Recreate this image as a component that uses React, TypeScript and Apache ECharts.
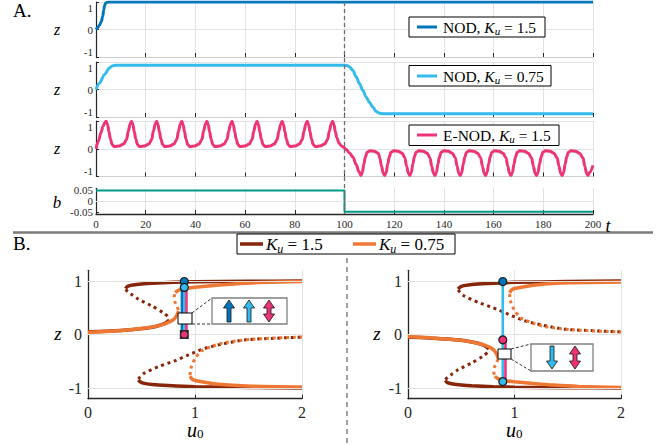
import React, { useEffect, useRef } from 'react';
import * as echarts from 'echarts';

const SER = 'Liberation Serif';

// ---------- Panel A data ----------
const zTickValues = [-1, 0, 1];
const bTickValues = [-0.05, 0, 0.05];
const bTickLabels = ['-0.05', '0', '0.05'];

const nod15: number[][] = [[0,0],[0.7,0.07],[1.4,0.16],[2.1,0.28],[2.7,0.47],[3.1,0.71],[3.5,0.88],[3.9,0.96],[4.5,0.99],[5.5,1],[200,1]];
const nod075: number[][] = [[0,0],[1.4,0.23],[3.4,0.54],[5.4,0.78],[6.3,0.85],[7.2,0.875],[8.5,0.88],[100,0.88],[101,0.87],[102,0.83],[103.4,0.69],[104.7,0.46],[106,0.22],[107.4,-0.03],[108.7,-0.27],[110,-0.46],[111.4,-0.64],[112.7,-0.8],[114,-0.86],[115.5,-0.88],[200,-0.88]];
const enod: number[][] = [
[0,0],[1,0.28],[2,0.58],[2.8,0.8],[3.5,0.94],[4.1,0.99],
[4.7,0.86],[5.2,0.62],[5.8,0.35],[6.5,0.15],[7.4,0.08],[9.3,0.1],[11.1,0.17],[12.3,0.33],[13.0,0.63],[13.7,0.88],[14.3,0.99],
[14.9,0.86],[15.4,0.62],[16.0,0.35],[16.7,0.15],[17.6,0.08],[19.5,0.1],[21.3,0.17],[22.4,0.33],[23.1,0.63],[23.8,0.88],[24.4,0.99],
[25.0,0.86],[25.5,0.62],[26.1,0.35],[26.8,0.15],[27.7,0.08],[29.6,0.1],[31.4,0.17],[32.5,0.33],[33.2,0.63],[33.9,0.88],[34.5,0.99],
[35.1,0.86],[35.6,0.62],[36.2,0.35],[36.9,0.15],[37.8,0.08],[39.7,0.1],[41.5,0.17],[42.6,0.33],[43.3,0.63],[44.0,0.88],[44.6,0.99],
[45.2,0.86],[45.7,0.62],[46.3,0.35],[47.0,0.15],[47.9,0.08],[49.8,0.1],[51.6,0.17],[52.7,0.33],[53.4,0.63],[54.1,0.88],[54.7,0.99],
[55.3,0.86],[55.8,0.62],[56.4,0.35],[57.1,0.15],[58.0,0.08],[59.9,0.1],[61.7,0.17],[62.8,0.33],[63.5,0.63],[64.2,0.88],[64.8,0.99],
[65.4,0.86],[65.9,0.62],[66.5,0.35],[67.2,0.15],[68.1,0.08],[70.0,0.1],[71.8,0.17],[72.9,0.33],[73.6,0.63],[74.3,0.88],[74.9,0.99],
[75.5,0.86],[76.0,0.62],[76.6,0.35],[77.3,0.15],[78.2,0.08],[80.1,0.1],[81.9,0.17],[83.0,0.33],[83.7,0.63],[84.4,0.88],[85.0,0.99],
[85.6,0.86],[86.1,0.62],[86.7,0.35],[87.4,0.15],[88.3,0.08],[90.2,0.1],[92.0,0.17],[93.2,0.33],[93.9,0.63],[94.6,0.88],[95.2,0.99],
[95.8,0.86],[96.3,0.62],[96.9,0.4],[97.8,0.2],[98.8,0.1],[99.6,0.06],[100.7,-0.03],[102,-0.15],[103.4,-0.3],[104.7,-0.57],[105.8,-0.82],[106.6,-0.96],
[107.2,-0.85],[107.8,-0.55],[108.4,-0.3],[109.1,-0.13],[110.2,-0.07],[112.0,-0.09],[113.6,-0.16],[114.2,-0.33],[114.9,-0.63],[115.6,-0.88],[116.2,-0.96],
[116.8,-0.85],[117.4,-0.55],[118.0,-0.3],[118.7,-0.13],[119.8,-0.07],[121.6,-0.09],[123.2,-0.16],[124.3,-0.33],[125.0,-0.63],[125.7,-0.88],[126.3,-0.96],
[126.9,-0.85],[127.5,-0.55],[128.1,-0.3],[128.8,-0.13],[129.9,-0.07],[131.7,-0.09],[133.3,-0.16],[134.4,-0.33],[135.1,-0.63],[135.8,-0.88],[136.4,-0.96],
[137.0,-0.85],[137.6,-0.55],[138.2,-0.3],[138.9,-0.13],[140.0,-0.07],[141.8,-0.09],[143.4,-0.16],[144.6,-0.33],[145.3,-0.63],[146.0,-0.88],[146.6,-0.96],
[147.2,-0.85],[147.8,-0.55],[148.4,-0.3],[149.1,-0.13],[150.2,-0.07],[152.0,-0.09],[153.6,-0.16],[154.8,-0.33],[155.5,-0.63],[156.2,-0.88],[156.8,-0.96],
[157.4,-0.85],[158.0,-0.55],[158.6,-0.3],[159.3,-0.13],[160.4,-0.07],[162.2,-0.09],[163.8,-0.16],[165.0,-0.33],[165.7,-0.63],[166.4,-0.88],[167.0,-0.96],
[167.6,-0.85],[168.2,-0.55],[168.8,-0.3],[169.5,-0.13],[170.6,-0.07],[172.4,-0.09],[174.0,-0.16],[175.3,-0.33],[176.0,-0.63],[176.7,-0.88],[177.3,-0.96],
[177.9,-0.85],[178.5,-0.55],[179.1,-0.3],[179.8,-0.13],[180.9,-0.07],[182.7,-0.09],[184.3,-0.16],[185.6,-0.33],[186.3,-0.63],[187.0,-0.88],[187.6,-0.96],
[188.2,-0.85],[188.8,-0.55],[189.4,-0.3],[190.1,-0.13],[191.2,-0.07],[193.0,-0.09],[194.6,-0.16],[196.0,-0.33],[196.7,-0.63],[197.4,-0.88],[198.0,-0.96],
[198.6,-0.86],[200,-0.6]
];
const bias: number[][] = [[0,0.05],[100,0.05],[100,-0.05],[200,-0.05]];

// ---------- Panel B data (left: positive bias) ----------
const redUpL: number[][] = [[0.35,0.86],[0.37,0.9],[0.42,0.925],[0.5,0.945],[0.6,0.96],[0.8,0.975],[1.0,0.985],[1.5,0.995],[2,1.0]];
const redMidL: number[][] = [[0.35,0.84],[0.4,0.76],[0.47,0.66],[0.6,0.53],[0.7,0.41],[0.75,0.33],[0.76,0.29]];
const redLowL: number[][] = [[0,0.05],[0.2,0.065],[0.4,0.09],[0.55,0.12],[0.65,0.16],[0.72,0.21],[0.76,0.27]];
const redBotL: number[][] = [[0.47,-0.85],[0.5,-0.9],[0.6,-0.935],[0.75,-0.955],[1.0,-0.975],[1.5,-0.99],[2,-1.0]];
const redBotMidL: number[][] = [[0.47,-0.83],[0.52,-0.73],[0.66,-0.6],[0.8,-0.5],[0.94,-0.38],[1.09,-0.26],[1.25,-0.18],[1.47,-0.1],[1.75,-0.07],[2,-0.05]];
const orLowL: number[][] = [[0,0.04],[0.2,0.06],[0.44,0.1],[0.6,0.14],[0.72,0.2],[0.8,0.28],[0.83,0.36],[0.845,0.44]];
const orMidL: number[][] = [[0.845,0.46],[0.83,0.54],[0.81,0.62],[0.805,0.7],[0.815,0.77]];
const orUpL: number[][] = [[0.815,0.78],[0.84,0.82],[0.9,0.86],[1.0,0.885],[1.2,0.92],[1.36,0.945],[1.6,0.97],[2,0.99]];
const orBotMidL: number[][] = [[0.955,-0.76],[0.955,-0.7],[0.97,-0.58],[1.0,-0.45],[1.06,-0.31],[1.16,-0.22],[1.28,-0.15],[1.53,-0.09],[2,-0.045]];
const orBotL: number[][] = [[0.955,-0.78],[0.97,-0.83],[1.0,-0.86],[1.22,-0.93],[1.53,-0.965],[2,-0.98]];

// vertical state lines and markers
const vBlueL: number[][] = [[0.88,0],[0.88,0.99]];
const vCyanL: number[][] = [[0.9,0],[0.9,0.88]];
const vPinkL: number[][] = [[0.92,0],[0.92,0.99]];
const mBlueL: number[][] = [[0.9,0.99]];
const mCyanL: number[][] = [[0.9,0.88]];
const mPinkL: number[][] = [[0.9,0.0]];
const vCyanR: number[][] = [[0.89,0.99],[0.89,-0.88]];
const vPinkR: number[][] = [[0.915,-0.1],[0.915,-0.93]];
const mBlueR: number[][] = [[0.89,0.99]];
const mCyanR: number[][] = [[0.89,-0.88]];
const mPinkR: number[][] = [[0.89,-0.1]];

const C_BLUE = '#0077BB';
const C_CYAN = '#33BBEE';
const C_PINK = '#EE3377';
const C_TEAL = '#009988';
const C_RED = '#862508';
const C_OR = '#EE7733';
const AXC = '#262626';
const GRIDC = '#e2e2e2';

const neg = (d: number[][]) => d.map(([u, z]) => [u, -z]);

function buildOption() {
  const gA = [
    { left: 96, top: 2, width: 497, height: 55 },
    { left: 96, top: 62, width: 497, height: 55 },
    { left: 96, top: 121, width: 497, height: 55.5 },
    { left: 96, top: 188.3, width: 497, height: 25.7 },
  ];
  const gB = [
    { left: 88, top: 270.3, width: 214, height: 128.4 },
    { left: 408, top: 270.3, width: 213, height: 128.4 },
  ];
  const grid = [...gA, ...gB].map((g) => ({ ...g, outerBoundsMode: 'none', containLabel: false }));

  const lab = (fs: number, margin: number, extra: any = {}) => ({
    fontFamily: SER, fontSize: fs, color: AXC, margin, hideOverlap: false,
    showMinLabel: true, showMaxLabel: true, ...extra,
  });

  const xAxis: any[] = [];
  const yAxis: any[] = [];
  for (let i = 0; i < 4; i++) {
    xAxis.push({
      type: 'value', gridIndex: i, min: 0, max: 200, interval: 20,
      axisLine: { show: true, onZero: false, lineStyle: { color: i === 3 ? AXC : '#cfcfcf', width: i === 3 ? 1.3 : 1 } },
      axisTick: { show: true, inside: true, length: 4, lineStyle: { color: AXC, width: 1 } },
      axisLabel: lab(11, 4, { show: i === 3 }),
      splitLine: { show: true, lineStyle: { color: GRIDC, width: 1 } },
    });
    if (i < 3) {
      yAxis.push({
        type: 'value', gridIndex: i, min: -1, max: 1, interval: 1,
        axisLine: { show: true, onZero: false, lineStyle: { color: AXC, width: 1.2 } },
        axisTick: { show: true, inside: true, length: 3, lineStyle: { color: AXC } },
        axisLabel: lab(11, 3, { verticalAlignMinLabel: 'bottom', verticalAlignMaxLabel: 'top' }),
        splitLine: { show: true, lineStyle: { color: GRIDC, width: 1 } },
      });
    } else {
      yAxis.push({
        type: 'value', gridIndex: i, min: -0.06, max: 0.06,
        axisLine: { show: true, onZero: false, lineStyle: { color: AXC, width: 1.2 } },
        axisTick: { show: true, inside: true, length: 3, customValues: bTickValues, lineStyle: { color: AXC } },
        axisLabel: { show: false },
        splitLine: { show: false },
      });
    }
  }
  for (let j = 0; j < 2; j++) {
    const gi = 4 + j;
    xAxis.push({
      type: 'value', gridIndex: gi, min: 0, max: 2, interval: 1,
      axisLine: { show: true, onZero: false, lineStyle: { color: AXC, width: 1.3 } },
      axisTick: { show: true, inside: true, length: 4, lineStyle: { color: AXC } },
      axisLabel: lab(16, 6),
      splitLine: { show: true, lineStyle: { color: GRIDC, width: 1 } },
    });
    yAxis.push({
      type: 'value', gridIndex: gi, min: -1.2, max: 1.2,
      axisLine: { show: true, onZero: false, lineStyle: { color: AXC, width: 1.3 } },
      axisTick: { show: true, inside: true, length: 4, customValues: zTickValues, lineStyle: { color: AXC } },
      axisLabel: lab(16, 6, { customValues: zTickValues }),
      splitLine: { show: false },
    });
  }

  const tLine = (idx: number, data: number[][], color: string, width: number, smooth: any) => ({
    type: 'line', xAxisIndex: idx, yAxisIndex: idx, data, showSymbol: false, symbol: 'none',
    smooth, smoothMonotone: 'x', lineStyle: { color, width }, silent: true, z: 3,
  });

  const series: any[] = [
    tLine(0, nod15, C_BLUE, 3, 0.3),
    tLine(1, nod075, C_CYAN, 3, 0.3),
    tLine(2, enod, C_PINK, 3, 0.35),
    {
      ...tLine(3, bias, C_TEAL, 2, false),
      markLine: { silent: true, symbol: ['none', 'none'], label: { show: false },
        lineStyle: { color: GRIDC, type: 'solid', width: 1 }, data: [{ yAxis: 0 }] },
    },
  ];

  const bLine = (ax: number, data: number[][], color: string, dotted: boolean, w = 3.5) => ({
    type: 'line', xAxisIndex: ax, yAxisIndex: ax, data, showSymbol: false, symbol: 'none',
    smooth: 0.25, silent: true, z: dotted ? 2 : 3,
    lineStyle: { color, width: dotted ? 3 : w, type: dotted ? [3, 3.7] : 'solid', cap: 'butt' },
  });
  const vLine = (ax: number, data: number[][], color: string, w: number) => ({
    type: 'line', xAxisIndex: ax, yAxisIndex: ax, data, showSymbol: false, symbol: 'none',
    silent: true, z: 6, lineStyle: { color, width: w },
  });
  const marker = (ax: number, data: number[][], color: string, symbol: string, size: number, border: boolean, z: number) => ({
    type: 'scatter', xAxisIndex: ax, yAxisIndex: ax, data, symbol, symbolSize: size, silent: true, z,
    itemStyle: { color, borderColor: '#1a1a1a', borderWidth: border ? 1.2 : 0, opacity: 1 },
  });

  for (let j = 0; j < 2; j++) {
    const ax = 4 + j;
    const f = j === 0 ? (d: number[][]) => d : neg;
    series.push({
      type: 'line', xAxisIndex: ax, yAxisIndex: ax, data: [[0, 0]], showSymbol: false, symbol: 'none',
      lineStyle: { opacity: 0 }, silent: true, z: 1,
      markLine: { silent: true, symbol: ['none', 'none'], label: { show: false },
        lineStyle: { color: GRIDC, type: 'solid', width: 1 }, data: [{ yAxis: -1 }, { yAxis: 0 }, { yAxis: 1 }] },
    });
    series.push(bLine(ax, f(redMidL), C_RED, true));
    series.push(bLine(ax, f(redBotMidL), C_RED, true));
    series.push(bLine(ax, f(redUpL), C_RED, false));
    series.push(bLine(ax, f(redLowL), C_RED, false));
    series.push(bLine(ax, f(redBotL), C_RED, false));
    series.push(bLine(ax, f(orMidL), C_OR, true));
    series.push(bLine(ax, f(orBotMidL), C_OR, true));
    series.push(bLine(ax, f(orLowL), C_OR, false));
    series.push(bLine(ax, f(orUpL), C_OR, false));
    series.push(bLine(ax, f(orBotL), C_OR, false));
  }
  // left states
  series.push(vLine(4, vBlueL, C_BLUE, 3));
  series.push(vLine(4, vCyanL, C_CYAN, 2.6));
  series.push(vLine(4, vPinkL, C_PINK, 2.6));
  series.push(marker(4, mPinkL, '#2a2a2a', 'rect', 9, false, 9));
  series.push(marker(4, mPinkL, C_PINK, 'circle', 6.5, false, 10));
  series.push(marker(4, mBlueL, C_BLUE, 'circle', 8, true, 10));
  series.push(marker(4, mCyanL, C_CYAN, 'circle', 8, true, 11));
  // right states
  series.push(vLine(5, vCyanR, C_CYAN, 2.6));
  series.push(vLine(5, vPinkR, C_PINK, 2.6));
  series.push(marker(5, mBlueR, C_BLUE, 'circle', 8, true, 10));
  series.push(marker(5, mCyanR, C_CYAN, 'circle', 8, true, 10));
  series.push(marker(5, mPinkR, C_PINK, 'circle', 8, true, 10));

  return { animation: false, backgroundColor: '#ffffff', textStyle: { fontFamily: SER }, grid, xAxis, yAxis, series };
}

function ktext(x: number, y: number, pre: string, post: string, fs: number) {
  return {
    type: 'text', x, y, z: 110,
    style: {
      text: `{a|${pre}}{k|K}{s|u}{a|${post}}`,
      align: 'left', verticalAlign: 'middle',
      rich: {
        a: { fontFamily: SER, fontSize: fs, fill: '#000', lineHeight: fs + 4 },
        k: { fontFamily: SER, fontSize: fs, fontStyle: 'italic', fill: '#000', lineHeight: fs + 4 },
        s: { fontFamily: SER, fontSize: Math.round(fs * 0.68), fontStyle: 'italic', fill: '#000', lineHeight: Math.round(fs * 0.72), verticalAlign: 'bottom' },
      },
    },
  };
}
function label(x: number, y: number, t: string, fs: number, italic = true) {
  return { type: 'text', x, y, z: 110, style: { text: t, fontFamily: SER, fontSize: fs, fontStyle: italic ? 'italic' : 'normal', fill: '#000', align: 'center', verticalAlign: 'middle' } };
}
function upArrow(cx: number, y1: number, y2: number, fill: string) {
  return { type: 'polygon', z: 112, shape: { points: [[cx - 2, y2], [cx - 2, y1 + 8], [cx - 5.5, y1 + 8], [cx, y1], [cx + 5.5, y1 + 8], [cx + 2, y1 + 8], [cx + 2, y2]] }, style: { fill, stroke: '#111', lineWidth: 0.8 } };
}
function downArrow(cx: number, y1: number, y2: number, fill: string) {
  return { type: 'polygon', z: 112, shape: { points: [[cx - 2, y1], [cx - 2, y2 - 8], [cx - 5.5, y2 - 8], [cx, y2], [cx + 5.5, y2 - 8], [cx + 2, y2 - 8], [cx + 2, y1]] }, style: { fill, stroke: '#111', lineWidth: 0.8 } };
}
function dblArrow(cx: number, y1: number, y2: number, fill: string) {
  return { type: 'polygon', z: 112, shape: { points: [[cx, y1], [cx + 5.5, y1 + 8], [cx + 2, y1 + 8], [cx + 2, y2 - 8], [cx + 5.5, y2 - 8], [cx, y2], [cx - 5.5, y2 - 8], [cx - 2, y2 - 8], [cx - 2, y1 + 8], [cx - 5.5, y1 + 8]] }, style: { fill, stroke: '#111', lineWidth: 0.8 } };
}
function legLine(x1: number, x2: number, y: number, color: string, w = 3.5) {
  return { type: 'line', z: 111, shape: { x1, y1: y, x2, y2: y }, style: { stroke: color, lineWidth: w } };
}
function box(x: number, y: number, w: number, h: number, stroke = '#000', lw = 1) {
  return { type: 'rect', z: 109, shape: { x, y, width: w, height: h }, style: { fill: '#fff', stroke, lineWidth: lw } };
}
function dash(x1: number, y1: number, x2: number, y2: number) {
  return { type: 'line', z: 108, shape: { x1, y1, x2, y2 }, style: { stroke: '#333', lineWidth: 1, lineDash: [3, 2] } };
}
function uSub(x: number, y: number) {
  return { type: 'text', x, y, z: 110, style: { text: '{u|u}{s|0}', align: 'left', verticalAlign: 'middle',
    rich: { u: { fontFamily: SER, fontSize: 20, fontStyle: 'italic', fill: '#000', lineHeight: 20 },
      s: { fontFamily: SER, fontSize: 13, fill: '#000', lineHeight: 11, verticalAlign: 'bottom' } } } };
}

function buildGraphic(x100: number, yTop: number, yBot: number, bLabelY: number[]) {
  const els: any[] = [
    { type: 'text', x: 13, y: 10, z: 110, style: { text: 'A.', fontFamily: SER, fontSize: 19, fill: '#000', verticalAlign: 'middle' } },
    { type: 'text', x: 13, y: 243, z: 110, style: { text: 'B.', fontFamily: SER, fontSize: 19, fill: '#000', verticalAlign: 'middle' } },
    { type: 'line', z: 105, shape: { x1: 13, y1: 232.5, x2: 653, y2: 232.5 }, style: { stroke: '#7a7a7a', lineWidth: 2.5 } },
    { type: 'line', z: 105, shape: { x1: x100, y1: yTop, x2: x100, y2: yBot }, style: { stroke: '#6e6e6e', lineWidth: 1.3, lineDash: [4, 3] } },
    { type: 'line', z: 105, shape: { x1: 347, y1: 258, x2: 347, y2: 445 }, style: { stroke: '#6e6e6e', lineWidth: 1.3, lineDash: [5, 4] } },
    // legends panel A
    box(409, 17, 136, 20), legLine(417, 437, 27, C_BLUE, 3), ktext(443, 27, 'NOD, ', ' = 1.5', 15.5),
    box(409, 65.5, 142, 20.5), legLine(417, 437, 76, C_CYAN, 3), ktext(443, 76, 'NOD, ', ' = 0.75', 15.5),
    box(409, 125, 150, 20.5), legLine(417, 437, 135, C_PINK, 3), ktext(443, 135, 'E-NOD, ', ' = 1.5', 15.5),
    // legend panel B
    box(237, 234, 218, 20), legLine(240, 263, 244, C_RED, 3.5), ktext(266, 244, '', ' = 1.5', 17),
    legLine(353, 376, 244, C_OR, 3.5), ktext(379, 244, '', ' = 0.75', 17),
    // axis labels
    label(57, 29, 'z', 16), label(57, 89, 'z', 16), label(57, 148, 'z', 16), label(57, 202, 'b', 17),
    label(608, 226, 't', 18),
    label(58, 333, 'z', 19), label(377, 333, 'z', 19),
    uSub(187, 430), uSub(506, 430),
    // inset left
    dash(192, 313, 212, 298), dash(192, 324, 212, 324),
    box(178, 313, 14, 11, '#000', 1),
    box(212, 298, 75, 26, '#808080', 1.3),
    upArrow(229, 300, 322, C_BLUE), upArrow(249, 300, 322, C_CYAN), dblArrow(269, 300, 322, C_PINK),
    // inset right
    dash(511, 349, 531, 344), dash(511, 359, 531, 371),
    box(498, 349, 13, 10, '#000', 1),
    box(531, 344, 62, 27, '#808080', 1.3),
    downArrow(552, 346, 369, C_CYAN), dblArrow(575, 346, 369, C_PINK),
  ];
  bTickLabels.forEach((t, i) => {
    els.push({ type: 'text', x: 93, y: bLabelY[i], z: 110, style: { text: t, fontFamily: SER, fontSize: 11, fill: AXC, align: 'right', verticalAlign: 'middle' } });
  });
  return { elements: els };
}

export default function App() {
  const ref = useRef<HTMLDivElement>(null);
  useEffect(() => {
    const chart = echarts.init(ref.current as HTMLDivElement, null, { renderer: 'svg' });
    chart.setOption(buildOption() as any);
    const x100 = chart.convertToPixel({ xAxisIndex: 0 } as any, 100) as unknown as number;
    const yTop = chart.convertToPixel({ yAxisIndex: 0 } as any, 1) as unknown as number;
    const yBot = chart.convertToPixel({ yAxisIndex: 3 } as any, -0.06) as unknown as number;
    const bLabelY = bTickValues.map((v) => chart.convertToPixel({ yAxisIndex: 3 } as any, v) as unknown as number);
    chart.setOption({ graphic: buildGraphic(x100, yTop, yBot, bLabelY) } as any);
    return () => chart.dispose();
  }, []);
  return <div ref={ref} style={{ position: 'absolute', left: 0, top: 0, width: 661, height: 445, background: '#fff' }} />;
}
